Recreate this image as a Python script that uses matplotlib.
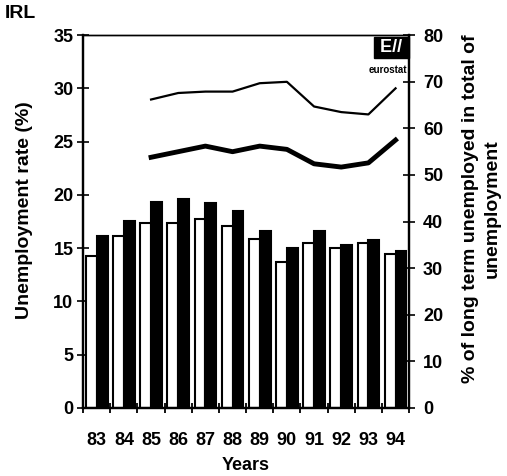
import numpy as np
import matplotlib.pyplot as plt

plt.rcParams['font.family'] = ['Liberation Sans', 'DejaVu Sans']
plt.rcParams['font.weight'] = 'bold'

# Data
years = ['83', '84', '85', '86', '87', '88', '89', '90', '91', '92', '93', '94']
rate_white = [14.3, 16.1, 17.4, 17.4, 17.7, 17.1, 15.9, 13.7, 15.5, 15.0, 15.5, 14.5]
rate_black = [16.1, 17.6, 19.3, 19.6, 19.2, 18.5, 16.6, 15.0, 16.6, 15.3, 15.8, 14.7]
line_years = ['85', '86', '87', '88', '89', '90', '91', '92', '93', '94']
long_term_thin = [66.2, 67.6, 67.9, 67.9, 69.7, 70.0, 64.7, 63.5, 63.0, 68.6]
long_term_thick = [53.8, 55.0, 56.2, 55.0, 56.2, 55.5, 52.4, 51.7, 52.6, 57.5]

fig = plt.figure(figsize=(5.07, 4.76), dpi=100)
ax = fig.add_axes([0.164, 0.143, 0.643, 0.783])
ax2 = ax.twinx()

x = np.arange(len(years))
w = 0.4
ax.bar(x - 0.2, rate_white, width=w, color='white', edgecolor='black', linewidth=1.5, zorder=2)
ax.bar(x + 0.2, rate_black, width=w, color='black', edgecolor='black', linewidth=1.5, zorder=2)

lx = [years.index(y) for y in line_years]
ax2.plot(lx, long_term_thin, color='black', linewidth=1.6)
ax2.plot(lx, long_term_thick, color='black', linewidth=3.5)

ax.set_xlim(-0.5, len(years) - 0.5)
ax.set_ylim(0, 35)
ax2.set_ylim(0, 80)
ax.set_yticks(np.arange(0, 36, 5))
ax2.set_yticks(np.arange(0, 81, 10))

# x ticks at year boundaries, labels at centres
ax.set_xticks(np.arange(-0.5, len(years), 1))
ax.set_xticklabels([])
ax.set_xticks(x, minor=True)
ax.set_xticklabels(years, minor=True)
ax.tick_params(axis='x', which='minor', length=0, pad=17, labelsize=13)
ax.tick_params(axis='x', which='major', direction='inout', length=7, width=1.3)
ax.tick_params(axis='y', direction='inout', length=8, width=1.2, labelsize=13, pad=3)
ax2.tick_params(axis='y', direction='inout', length=8, width=1.2, labelsize=13, pad=6)

for a in (ax, ax2):
    for s in ['left', 'right', 'bottom']:
        a.spines[s].set_linewidth(1.6)
    a.spines['top'].set_linewidth(1.0)

ax.set_ylabel('Unemployment rate (%)', fontsize=14, fontweight='bold')
ax.yaxis.set_label_coords(-0.153, 0.53)
ax2.set_ylabel('% of long term unemployed in total of\nunemployment', fontsize=14,
               fontweight='bold', rotation=90, linespacing=1.35)
ax2.yaxis.set_label_coords(1.163, 0.535)
ax.set_xlabel('Years', fontsize=13, fontweight='bold', labelpad=6)

fig.text(0.01, 0.99, 'IRL', fontsize=14, fontweight='bold', va='top', ha='left')

# eurostat logo approximation
ax.text(0.995, 0.99, ' E// ', transform=ax.transAxes, ha='right', va='top',
        fontsize=13, fontweight='bold', color='white',
        bbox=dict(boxstyle='square,pad=0.1', facecolor='black', edgecolor='black', linewidth=1))
ax.text(0.995, 0.92, 'eurostat', transform=ax.transAxes, ha='right', va='top',
        fontsize=7, fontweight='bold')

fig.savefig('out.png', dpi=100)
